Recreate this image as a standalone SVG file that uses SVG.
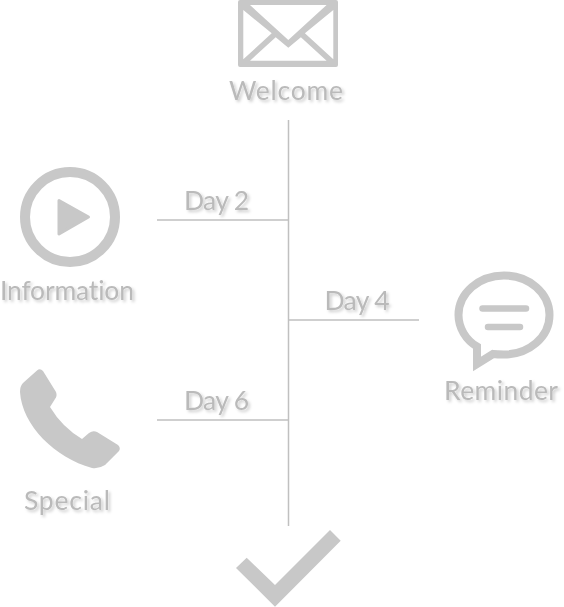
<svg xmlns="http://www.w3.org/2000/svg" width="564" height="607" viewBox="0 0 564 607">
<style>
.t{font-family:"Lato","Open Sans",sans-serif;font-size:26.500px;font-weight:400;fill:#bababa;text-anchor:middle;font-variant-ligatures:none;filter:url(#s)}
.i{fill:#c8c8c8}
.l{stroke:#c0c0c0;stroke-width:1.5;fill:none}
</style>
<defs><filter id="s" x="-20%" y="-30%" width="140%" height="170%"><feDropShadow dx="2" dy="2" stdDeviation="1.8" flood-color="#000" flood-opacity="0.2"/></filter></defs>
<rect width="564" height="607" fill="#fff"/>
<g id="connectors">
<path class="l" d="M288.500 120V526M157 220H288M288 320H419M157 420H288"/>
</g>
<g id="welcome">
<path class="i" fill-rule="evenodd" d="M240 0H336Q338 0 338 2V65Q338 67 336 67H240Q238 67 238 65V2Q238 0 240 0ZM250 5 288.300 40 326.600 5ZM243.300 10V59.300L271.700 33.300ZM333.300 10 304.900 33.300 333.300 59.300ZM250 60.700H326.600L300.900 37.300 288.300 47.700 275.700 37.300Z"/>
<text class="t" x="286" y="100" textLength="114">Welcome</text>
</g>
<g id="information">
<circle cx="70" cy="217" r="45" fill="none" stroke="#c8c8c8" stroke-width="10"/>
<path class="i" stroke="#c8c8c8" stroke-width="3" stroke-linejoin="round" d="M59 200.500 88.500 217 59 234Z"/>
<text class="t" x="67" y="300" textLength="134">Information</text>
</g>
<g id="day2"><text class="t" x="216.500" y="210" textLength="65">Day 2</text></g>
<g id="reminder">
<path fill="none" stroke="#c8c8c8" stroke-width="8" stroke-miterlimit="10" d="M477 346.500C466 340 458.500 328 458.500 315C458.500 293 479 275.500 504 275.500C529 275.500 549.500 293 549.500 315C549.500 337 529 354.500 504 354.500C500 354.500 497 354.500 493 354L477 364Z"/>
<path fill="none" stroke="#c8c8c8" stroke-width="6.500" stroke-linecap="round" d="M482.500 308.500H526M488 327H520"/>
<text class="t" x="501" y="400" textLength="114">Reminder</text>
</g>
<g id="day4"><text class="t" x="357" y="310" textLength="65">Day 4</text></g>
<g id="special">
<path class="i" d="M37 370.500Q40 368 43 371L56 392Q57.500 396 55 399L50 407Q62 427 82 439L89 433Q93 430 97 432L118 445Q121 448 119 451L105 465Q99 469 92 468C55 458 22 425 20 392Q20 386 23 383Z"/>
<text class="t" x="67" y="510" textLength="86">Special</text>
</g>
<g id="day6"><text class="t" x="216.500" y="410" textLength="65">Day 6</text></g>
<g id="done">
<path class="i" d="M330 530 340.700 540.700 275 606.700 236 568 246.700 557.700 275 585Z"/>
</g>
</svg>
